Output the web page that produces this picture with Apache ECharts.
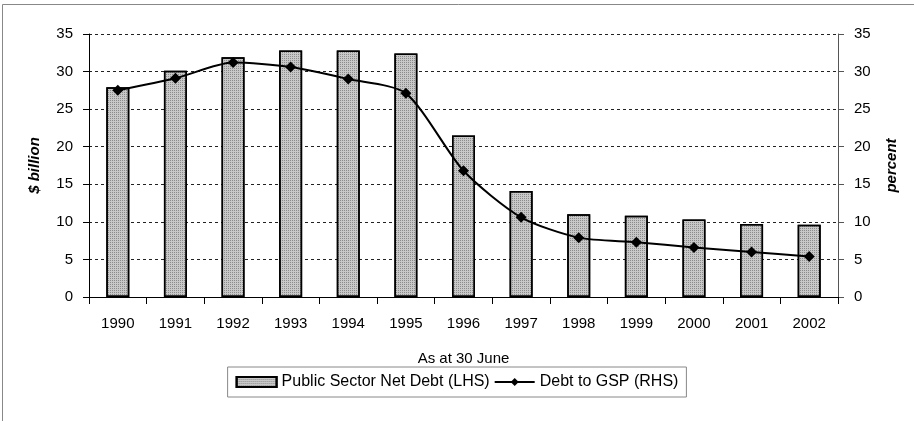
<!DOCTYPE html>
<html>
<head>
<meta charset="utf-8">
<script src="https://cdn.jsdelivr.net/npm/echarts@6/dist/echarts.min.js"></script>
<style>
  html, body { margin: 0; padding: 0; background: #fff; }
  #chart { width: 914px; height: 421px; }
</style>
</head>
<body>
<div id="chart"></div>
<script>
const years = ['1990', '1991', '1992', '1993', '1994', '1995', '1996', '1997', '1998', '1999', '2000', '2001', '2002'];
// $ billion (LHS)
const netDebt = [27.9, 30.1, 31.9, 32.8, 32.8, 32.4, 21.5, 14.1, 11.0, 10.8, 10.3, 9.7, 9.6];
// percent (RHS)
const debtToGsp = [27.5, 29.1, 31.2, 30.6, 29.0, 27.1, 16.8, 10.6, 7.9, 7.3, 6.6, 6.0, 5.4];
const yTicks = { min: 0, max: 35, interval: 5 };

const chart = echarts.init(document.getElementById('chart'));
const font = 'Liberation Sans, Arial, sans-serif';
const labelStyle = { color: '#000', fontSize: 15, fontFamily: font };
const nameStyle = { color: '#000', fontSize: 15, fontFamily: font, fontStyle: 'italic', fontWeight: 'bold' };

chart.setOption({
  animation: false,
  graphic: [
    {
      type: 'rect',
      shape: { x: 2.5, y: 4.5, width: 930, height: 430 },
      style: { fill: 'none', stroke: '#888', lineWidth: 1 }
    }
  ],
  grid: { left: 89, right: 76, top: 34, bottom: 124 },
  legend: {
    top: 367,
    left: 'center',
    padding: [7, 8, 7, 8],
    borderColor: '#888',
    borderWidth: 1,
    itemGap: 4,
    itemWidth: 40,
    itemHeight: 10,
    textStyle: { color: '#000', fontSize: 16, fontFamily: font },
    data: [
      { name: 'Public Sector Net Debt (LHS)', icon: 'rect' },
      { name: 'Debt to GSP (RHS)' }
    ]
  },
  xAxis: {
    type: 'category',
    data: years,
    name: 'As at 30 June',
    nameLocation: 'middle',
    nameGap: 54,
    nameTextStyle: labelStyle,
    axisLine: { lineStyle: { color: '#000' } },
    axisTick: { show: true, alignWithLabel: false, length: 7, lineStyle: { color: '#000' } },
    axisLabel: Object.assign({ margin: 19 }, labelStyle)
  },
  yAxis: [
    {
      type: 'value',
      min: yTicks.min, max: yTicks.max, interval: yTicks.interval,
      name: '$ billion',
      nameLocation: 'middle',
      nameGap: 47,
      nameTextStyle: nameStyle,
      axisLine: { show: true, lineStyle: { color: '#000' } },
      axisTick: { show: true, length: 6, lineStyle: { color: '#000' } },
      axisLabel: Object.assign({ margin: 16 }, labelStyle),
      splitLine: { show: true, lineStyle: { color: '#222', type: [3, 3], width: 1 } }
    },
    {
      type: 'value',
      min: yTicks.min, max: yTicks.max, interval: yTicks.interval,
      name: 'percent',
      nameLocation: 'middle',
      nameGap: 46,
      nameTextStyle: nameStyle,
      axisLine: { show: true, lineStyle: { color: '#555' } },
      axisTick: { show: true, length: 6, lineStyle: { color: '#555' } },
      axisLabel: Object.assign({ margin: 16 }, labelStyle),
      splitLine: { show: false }
    }
  ],
  series: [
    {
      name: 'Public Sector Net Debt (LHS)',
      type: 'bar',
      yAxisIndex: 0,
      data: netDebt,
      barWidth: 23,
      itemStyle: {
        color: '#c8c8c8',
        borderColor: '#000',
        borderWidth: 1.5,
        decal: {
          symbol: 'rect',
          symbolSize: 1,
          color: 'rgba(0,0,0,0.3)',
          dashArrayX: [1, 1],
          dashArrayY: [1, 1]
        }
      }
    },
    {
      name: 'Debt to GSP (RHS)',
      type: 'line',
      yAxisIndex: 1,
      data: debtToGsp,
      smooth: 0.25,
      symbol: 'diamond',
      symbolSize: 11,
      lineStyle: { color: '#000', width: 2 },
      itemStyle: { color: '#000' }
    }
  ]
});
</script>
</body>
</html>
